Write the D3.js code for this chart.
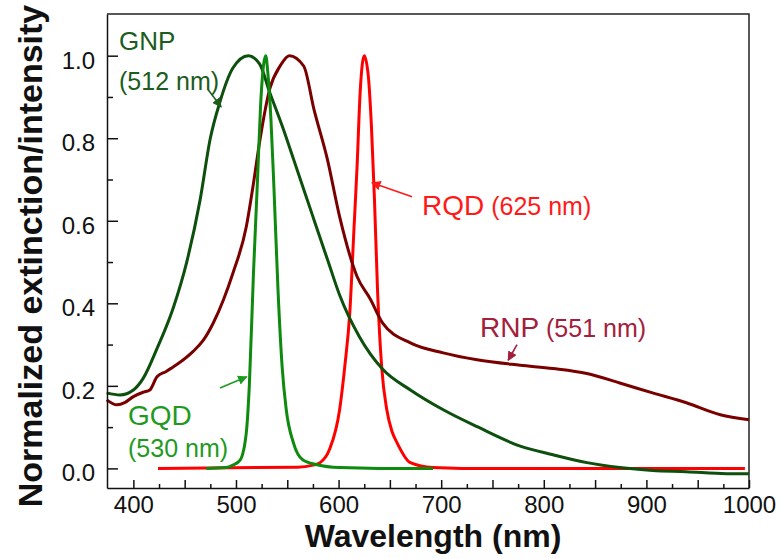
<!DOCTYPE html>
<html lang="en">
<head>
  <meta charset="UTF-8">
  <title>Normalized extinction / intensity</title>
  <script src="https://d3js.org/d3.v7.min.js"></script>
  <style>
    body {
      margin: 0;
      background: #fff;
      font-family: 'Liberation Sans', Arial, sans-serif;
    }
    .axis path, .axis line {
      stroke: #111;
      stroke-width: 1.5;
    }
    .axis text {
      font: 24px 'Liberation Sans', Arial, sans-serif;
      fill: #111;
    }
    .frame {
      stroke: #222;
      stroke-width: 1.5;
      fill: none;
    }
    .spectrum {
      fill: none;
      stroke-width: 3;
      stroke-linejoin: round;
    }
  </style>
</head>
<body>
  <svg width="783" height="559"></svg>
  <script>
    // spectra (wavelength in nm, normalized value)
    const gnpWl  = [374, 387, 400, 410, 423, 439, 452, 465, 475, 484, 497, 512, 523, 533, 545, 556, 575, 590, 601, 620, 643, 670, 702, 735, 777, 809, 842, 874, 906, 939, 978, 1000];
    const gnpVal = [0.183, 0.178, 0.19, 0.22, 0.29, 0.39, 0.50, 0.65, 0.80, 0.885, 0.97, 1.0, 0.98, 0.91, 0.83, 0.75, 0.61, 0.50, 0.42, 0.32, 0.24, 0.19, 0.142, 0.101, 0.054, 0.033, 0.014, 0.002, -0.005, -0.008, -0.013, -0.013];

    const rnpWl  = [374, 384, 392, 400, 410, 416, 423, 432, 442, 458, 468, 478, 488, 497, 510, 517, 523, 533, 543, 552, 566, 576, 589, 601, 618, 631, 643, 670, 702, 735, 777, 809, 842, 874, 906, 939, 972, 1000];
    const rnpVal = [0.166, 0.154, 0.16, 0.174, 0.185, 0.19, 0.222, 0.235, 0.251, 0.283, 0.31, 0.353, 0.41, 0.473, 0.585, 0.69, 0.79, 0.92, 0.975, 1.0, 0.975, 0.87, 0.75, 0.61, 0.465, 0.41, 0.352, 0.304, 0.28, 0.263, 0.25, 0.242, 0.23, 0.207, 0.183, 0.159, 0.13, 0.118];

    const gqdWl  = [471, 490, 497, 504, 510, 513, 517, 521, 524, 527, 529, 531, 534, 537, 541, 545, 549, 556, 565, 579, 601, 640, 692];
    const gqdVal = [0.0, 0.002, 0.008, 0.02, 0.085, 0.2, 0.47, 0.70, 0.88, 0.98, 1.0, 0.96, 0.85, 0.68, 0.43, 0.246, 0.142, 0.062, 0.021, 0.009, 0.002, 0.0, 0.0];

    const rqdWl  = [424, 560, 575, 582, 591, 601, 606, 611, 615, 618, 621, 625, 629, 632, 635, 638, 642, 647, 652, 657, 670, 692, 720, 996];
    const rqdVal = [0.0, 0.003, 0.008, 0.014, 0.045, 0.142, 0.246, 0.38, 0.58, 0.73, 0.91, 1.0, 0.95, 0.83, 0.65, 0.43, 0.246, 0.142, 0.09, 0.062, 0.014, 0.002, 0.0, 0.0];

    const xTicks = d3.range(400, 1001, 25);
    const yTicks = d3.range(0, 11).map(i => i / 10);

    const series = [
      { name: "RQD", wl: rqdWl, val: rqdVal, color: "#ff0000" },
      { name: "RNP", wl: rnpWl, val: rnpVal, color: "#7a0000" },
      { name: "GNP", wl: gnpWl, val: gnpVal, color: "#0d4f0d" },
      { name: "GQD", wl: gqdWl, val: gqdVal, color: "#0e8a0e" }
    ];

    // annotations in data units: label lines and arrows (tail -> head)
    const notes = [
      { color: "#1c5c1c", lines: [
          { x: 386, y: 1.014, parts: [["GNP", 26]] },
          { x: 386, y: 0.917, parts: [["(512 nm)", 25]] }],
        arrow: [[472.7, 0.918], [485.5, 0.876]] },
      { color: "#1f9a1f", lines: [
          { x: 394.8, y: 0.106, parts: [["GQD", 28]] },
          { x: 394.8, y: 0.028, parts: [["(530 nm)", 25]] }],
        arrow: [[484.4, 0.195], [510.5, 0.222]] },
      { color: "#ff1a1a", lines: [
          { x: 681.3, y: 0.614, parts: [["RQD", 28], [" (625 nm)", 25]] }],
        arrow: [[671.6, 0.658], [632.5, 0.692]] },
      { color: "#a3203c", lines: [
          { x: 737.8, y: 0.319, parts: [["RNP", 28], [" (551 nm)", 25]] }],
        arrow: [[773.9, 0.300], [765.3, 0.262]] }
    ];

    const svg = d3.select("svg");
    const plotLeft = 107, plotRight = 749, plotTop = 14, plotBottom = 488;

    const x = d3.scaleLinear().domain([374.3, 1000]).range([plotLeft, plotRight]);
    const y = d3.scaleLinear().domain([-0.0475, 1.101]).range([plotBottom, plotTop]);

    const defs = svg.append("defs");
    notes.forEach((n, i) => {
      defs.append("marker")
        .attr("id", "head" + i)
        .attr("viewBox", "0 0 10 10")
        .attr("refX", 9).attr("refY", 5)
        .attr("markerWidth", 6).attr("markerHeight", 6)
        .attr("markerUnits", "strokeWidth")
        .attr("orient", "auto")
        .append("path")
        .attr("d", "M0,0 L10,5 L0,10 z")
        .attr("fill", n.color);
    });

    // frame top and right
    svg.append("path")
      .attr("class", "frame")
      .attr("d", `M${plotLeft},${plotTop} H${plotRight} V${plotBottom}`);

    const line = d3.line()
      .x(d => x(d[0]))
      .y(d => y(d[1]))
      .curve(d3.curveMonotoneX);

    svg.append("g")
      .selectAll("path")
      .data(series)
      .join("path")
      .attr("class", "spectrum")
      .attr("stroke", d => d.color)
      .attr("d", d => line(d.wl.map((w, i) => [w, d.val[i]])));

    const xAxis = svg.append("g")
      .attr("class", "axis")
      .attr("transform", `translate(0,${plotBottom})`)
      .call(d3.axisBottom(x)
        .tickValues(xTicks)
        .tickSizeInner(-8)
        .tickSizeOuter(0)
        .tickPadding(8)
        .tickFormat(d => d % 100 === 0 ? d : ""));
    xAxis.selectAll(".tick line")
      .attr("y2", d => d % 50 === 0 ? -8 : -4);

    const yAxis = svg.append("g")
      .attr("class", "axis")
      .attr("transform", `translate(${plotLeft},0)`)
      .call(d3.axisLeft(y)
        .tickValues(yTicks)
        .tickSizeInner(-11)
        .tickSizeOuter(0)
        .tickPadding(12)
        .tickFormat(d => Math.round(d * 10) % 2 === 0 ? d.toFixed(1) : ""));
    yAxis.selectAll(".tick line")
      .attr("x2", d => Math.round(d * 10) % 2 === 0 ? 11 : 6);
    yAxis.selectAll(".tick text").attr("dy", "0.52em");

    // annotations
    notes.forEach((n, i) => {
      const g = svg.append("g").attr("fill", n.color);
      n.lines.forEach(l => {
        const t = g.append("text")
          .attr("x", x(l.x))
          .attr("y", y(l.y));
        l.parts.forEach(p => {
          t.append("tspan")
            .attr("font-size", p[1] + "px")
            .style("white-space", "pre")
            .text(p[0]);
        });
      });
      g.append("line")
        .attr("x1", x(n.arrow[0][0])).attr("y1", y(n.arrow[0][1]))
        .attr("x2", x(n.arrow[1][0])).attr("y2", y(n.arrow[1][1]))
        .attr("stroke", n.color)
        .attr("stroke-width", 1.6)
        .attr("marker-end", `url(#head${i})`);
    });

    // axis titles
    svg.append("text")
      .attr("transform", "translate(42,256) rotate(-90)")
      .attr("text-anchor", "middle")
      .attr("font-size", "34px")
      .attr("font-weight", "bold")
      .attr("fill", "#111")
      .text("Normalized extinction/intensity");

    svg.append("text")
      .attr("x", 433)
      .attr("y", 547)
      .attr("text-anchor", "middle")
      .attr("font-size", "32px")
      .attr("font-weight", "bold")
      .attr("fill", "#111")
      .text("Wavelength (nm)");
  </script>
</body>
</html>
